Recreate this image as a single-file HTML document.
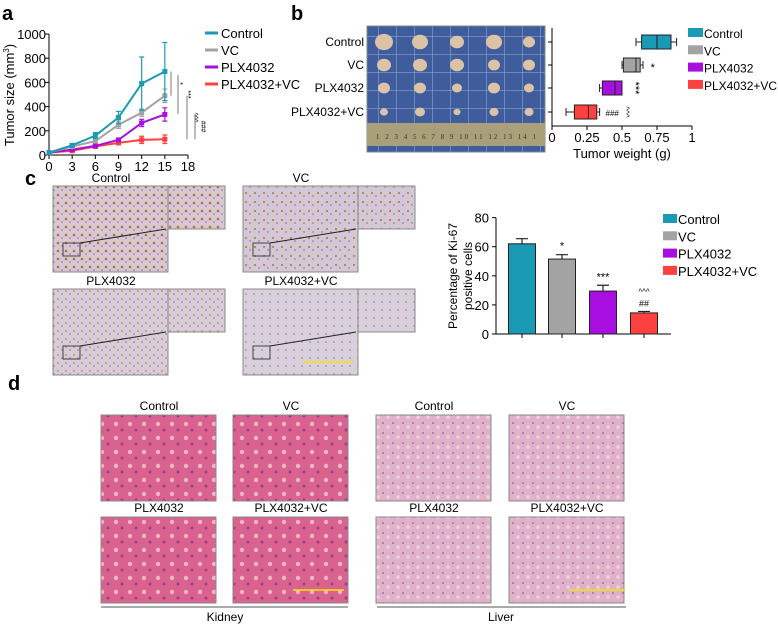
<!DOCTYPE html>
<html><head><meta charset="utf-8"><style>
body{margin:0;background:#fff;}
svg{display:block;font-family:"Liberation Sans",Arial,sans-serif;}
</style></head><body>
<svg width="778" height="624" viewBox="0 0 778 624">
<defs>
<pattern id="grid" width="18" height="18" patternUnits="userSpaceOnUse"><rect width="18" height="18" fill="#3f5c9c"/><path d="M0 0H18M0 0V18" stroke="#9fb0d8" stroke-width="1"/></pattern>
<pattern id="ihc1" width="8" height="8" patternUnits="userSpaceOnUse"><rect width="8" height="8" fill="#d7c6d3"/><circle cx="2" cy="3" r="1.3" fill="#b7762e"/><circle cx="6" cy="6" r="1" fill="#a88fb5"/></pattern>
<pattern id="ihc2" width="9" height="9" patternUnits="userSpaceOnUse"><rect width="9" height="9" fill="#d5c8d6"/><circle cx="3" cy="4" r="1.1" fill="#b98446"/><circle cx="7" cy="7" r="1" fill="#a790b8"/></pattern>
<pattern id="ihc3" width="8" height="8" patternUnits="userSpaceOnUse"><rect width="8" height="8" fill="#d8ccd8"/><circle cx="2" cy="3" r="1" fill="#c09a6e"/><circle cx="6" cy="6" r="1" fill="#a894bb"/></pattern>
<pattern id="ihc4" width="8" height="8" patternUnits="userSpaceOnUse"><rect width="8" height="8" fill="#dad0dc"/><circle cx="6" cy="6" r="1" fill="#a99bc0"/></pattern>
<pattern id="kid" width="14" height="14" patternUnits="userSpaceOnUse"><rect width="14" height="14" fill="#d9628f"/><circle cx="4" cy="4" r="2.2" fill="#eeb6c8"/><circle cx="10" cy="10" r="1.5" fill="#9b3f8a"/></pattern>
<pattern id="liv" width="10" height="10" patternUnits="userSpaceOnUse"><rect width="10" height="10" fill="#e0b1c9"/><circle cx="3" cy="3" r="0.9" fill="#8e5fa6"/><circle cx="8" cy="7" r="1.8" fill="#ecd0dc"/></pattern>
</defs>

<text x="2" y="20" font-size="20" font-weight="bold">a</text>
<g id="pa"></g>

<text x="291" y="20" font-size="20" font-weight="bold">b</text>
<g>
<rect x="367" y="26" width="178" height="126" fill="url(#grid)" stroke="#888"/>
<rect x="367" y="123" width="178" height="23" fill="#a99f78"/>
<text x="376" y="139" font-size="7" font-family="Liberation Serif" fill="#333" textLength="160">1 2 3 4 5 6 7 8 9 10 11 12 13 14 1</text>
</g>
<g id="tum"></g>
<g id="pb"></g>

<text x="25" y="185" font-size="20" font-weight="bold">c</text>
<g id="pcimg"></g>
<g id="pc"></g>

<text x="8" y="390" font-size="20" font-weight="bold">d</text>
<g id="pd"></g>
</svg>
<script>
const NS="http://www.w3.org/2000/svg";
function mk(p,t,a,txt){const e=document.createElementNS(NS,t);for(const k in a)e.setAttribute(k,a[k]);if(txt!==undefined)e.textContent=txt;p.appendChild(e);return e;}
const groupNames=["Control","VC","PLX4032","PLX4032+VC"];
const colors=["#1b9ab5","#a3a3a3","#a80ee0","#ff4040"];

const days=[0,3,6,9,12,15];
const ctrlSize=[20,80,160,310,590,690];
const vcSize=[20,70,115,250,350,490];
const plxSize=[20,45,75,125,265,335];
const comboSize=[20,35,70,100,125,130];
const ctrlErr=[5,10,25,50,220,240];
const vcErr=[5,10,15,30,30,55];
const plxErr=[5,8,10,15,30,55];
const comboErr=[5,5,8,15,30,35];
const aXTicks=[0,3,6,9,12,15,18];
const aYTicks=[0,200,400,600,800,1000];

(function(){
const g=document.getElementById('pa');
const X=v=>49+v*139/18, Y=v=>155-v*0.121;
mk(g,'line',{x1:X(0),y1:Y(0),x2:X(18),y2:Y(0),stroke:'#000'});
mk(g,'line',{x1:X(0),y1:Y(0),x2:X(0),y2:Y(1000),stroke:'#000'});
aXTicks.forEach(t=>{mk(g,'line',{x1:X(t),y1:Y(0),x2:X(t),y2:Y(0)+4,stroke:'#000'});
 const l=mk(g,'text',{x:X(t),y:171,'font-size':13,'text-anchor':'middle'},t);
 });
aYTicks.forEach(t=>{mk(g,'line',{x1:X(0)-4,y1:Y(t),x2:X(0),y2:Y(t),stroke:'#000'});
 const l=mk(g,'text',{x:X(0)-3,y:Y(t)+5,'font-size':13,'text-anchor':'end'},t);
 });
const yt=mk(g,'text',{x:0,y:0,'font-size':13,'text-anchor':'middle',transform:'translate(14,95) rotate(-90)'});
yt.innerHTML='Tumor size (mm<tspan font-size="8" dy="-5">3</tspan><tspan dy="5">)</tspan>';

const series=[ctrlSize,vcSize,plxSize,comboSize], errs=[ctrlErr,vcErr,plxErr,comboErr];
[3,2,1,0].forEach(i=>{
 const s=series[i];
 days.forEach((d,j)=>{const e=mk(g,'path',{d:`M${X(d)} ${Y(s[j]-errs[i][j])}V${Y(s[j]+errs[i][j])}M${X(d)-2.5} ${Y(s[j]+errs[i][j])}h5M${X(d)-2.5} ${Y(s[j]-errs[i][j])}h5`,stroke:colors[i],'stroke-width':1.2,fill:'none'});
  });
 const p=mk(g,'polyline',{points:days.map((d,j)=>X(d)+','+Y(s[j])).join(' '),fill:'none',stroke:colors[i],'stroke-width':2});
 
 days.forEach((d,j)=>{const c=mk(g,'rect',{x:X(d)-2.5,y:Y(s[j])-2.5,width:5,height:5,fill:colors[i]});
  });
});
[[171,Y(690),Y(490),'*',178],[178,Y(660),Y(340),'***',186],[187,Y(490),Y(130),'^^^',193],[195,Y(340),Y(130),'###',201]].forEach(b=>{
 mk(g,'line',{x1:b[0],y1:b[1],x2:b[0],y2:b[2],stroke:'#555','stroke-width':0.8});
 mk(g,'text',{x:0,y:0,'font-size':7,'text-anchor':'middle',transform:`translate(${b[4]},${(b[1]+b[2])/2}) rotate(90)`},b[3]);
});
groupNames.forEach((n,i)=>{const y=33+i*17;
 mk(g,'line',{x1:205,y1:y,x2:218,y2:y,stroke:colors[i],'stroke-width':3});
 const l=mk(g,'text',{x:221,y:y+5,'font-size':13},n);
 });
})();

(function(){
const g=document.getElementById('tum');
const rows=[42,65,88,112], sizes=[[9,8,7,8,6],[7,7,7,6,6],[6,6,5,6,5],[4,5,3.5,4.5,4.5]];
const cols=[384,420,457,494,529];
const labels=["Control","VC","PLX4032","PLX4032+VC"];
labels.forEach((l,i)=>{const t=mk(g,'text',{x:364,y:rows[i]+4,'font-size':12,'text-anchor':'end'},l);
 
 cols.forEach((c,j)=>mk(g,'ellipse',{cx:c,cy:rows[i],rx:sizes[i][j],ry:sizes[i][j]*0.9,fill:'#dcc3a5'}));});
})();

const bMin=[0.60,0.50,0.34,0.10];
const bQ1=[0.64,0.51,0.36,0.16];
const bMed=[0.75,0.60,0.45,0.26];
const bQ3=[0.85,0.63,0.50,0.32];
const bMax=[0.89,0.65,0.50,0.34];
const bTicks=[0,0.25,0.5,0.75,1];
const bTickLabels=["0","0.25","0.5","0.75","1"];
const bSig=["","*","***","### ^^^"];
(function(){
const g=document.getElementById('pb');
const X=v=>552+v*140, rows=[42,65,88,112];
mk(g,'line',{x1:X(0),y1:126,x2:X(1),y2:126,stroke:'#000'});
mk(g,'line',{x1:X(0),y1:28,x2:X(0),y2:126,stroke:'#000'});
bTicks.forEach((t,i)=>{mk(g,'line',{x1:X(t),y1:126,x2:X(t),y2:130,stroke:'#000'});
 const l=mk(g,'text',{x:X(t),y:142,'font-size':13,'text-anchor':'middle'},bTickLabels[i]);
 });
rows.forEach(r=>mk(g,'line',{x1:X(0)-4,y1:r,x2:X(0),y2:r,stroke:'#000'}));
const xt=mk(g,'text',{x:X(0.5),y:158,'font-size':13,'text-anchor':'middle'},'Tumor weight (g)');

rows.forEach((r,i)=>{
 mk(g,'path',{d:`M${X(bMin[i])} ${r}H${X(bQ1[i])}M${X(bQ3[i])} ${r}H${X(bMax[i])}M${X(bMin[i])} ${r-4}v8M${X(bMax[i])} ${r-4}v8`,stroke:'#222',fill:'none'});
 const b=mk(g,'rect',{x:X(bQ1[i]),y:r-7,width:X(bQ3[i])-X(bQ1[i]),height:14,fill:colors[i],stroke:'#222'});
 
 mk(g,'line',{x1:X(bMed[i]),y1:r-7,x2:X(bMed[i]),y2:r+7,stroke:'#222'});
});
mk(g,'text',{x:X(0.72),y:71,'font-size':11,'text-anchor':'middle'},bSig[1]);
mk(g,'text',{x:0,y:0,'font-size':11,'text-anchor':'middle',transform:`translate(${X(0.57)},88) rotate(90)`},bSig[2]);
mk(g,'text',{x:X(0.43),y:116,'font-size':8,'text-anchor':'middle'},'###');
mk(g,'text',{x:0,y:0,'font-size':8,'text-anchor':'middle',transform:`translate(${X(0.51)},112) rotate(90)`},'^^^');
groupNames.forEach((n,i)=>{const y=33+i*17.3;
 mk(g,'rect',{x:688,y:y-5,width:15,height:9,fill:colors[i]});
 const l=mk(g,'text',{x:704,y:y+5,'font-size':12},n);
 });
})();

(function(){
const g=document.getElementById('pcimg');
const pos=[[53,186,'Control','ihc1'],[243,186,'VC','ihc2'],[53,289,'PLX4032','ihc3'],[243,289,'PLX4032+VC','ihc4']];
pos.forEach(p=>{
 const t=mk(g,'text',{x:p[0]+58,y:p[1]-4,'font-size':12,'text-anchor':'middle'},p[2]);
 
 const r=mk(g,'rect',{x:p[0],y:p[1],width:115,height:86,fill:`url(#${p[3]})`,stroke:'#888'});
 
 mk(g,'rect',{x:p[0]+115,y:p[1],width:57,height:43,fill:`url(#${p[3]})`,stroke:'#888'});
 mk(g,'rect',{x:p[0]+10,y:p[1]+57,width:17,height:13,fill:'none',stroke:'#444'});
 mk(g,'line',{x1:p[0]+27,y1:p[1]+57,x2:p[0]+113,y2:p[1]+43,stroke:'#222'});
});
mk(g,'line',{x1:303,y1:362,x2:353,y2:362,stroke:'#f2e600','stroke-width':1.5});
})();

const cVals=[62,51.5,29.5,14.5];
const cErr=[3.5,3,4,1];
const cTicks=[0,20,40,60,80];
const cSig=["","*","***","##"];
(function(){
const g=document.getElementById('pc');
const Y=v=>334-v*1.455, cx=[522,562,603,644];
mk(g,'line',{x1:496,y1:334,x2:671,y2:334,stroke:'#000'});
mk(g,'line',{x1:496,y1:Y(80),x2:496,y2:334,stroke:'#000'});
cTicks.forEach(t=>{mk(g,'line',{x1:492,y1:Y(t),x2:496,y2:Y(t),stroke:'#000'});
 const l=mk(g,'text',{x:489,y:Y(t)+5,'font-size':13,'text-anchor':'end'},t);
 });
const yt=mk(g,'text',{x:0,y:0,'font-size':12,'text-anchor':'middle',transform:'translate(457,276) rotate(-90)'},'Percentage of Ki-67');

mk(g,'text',{x:0,y:0,'font-size':12,'text-anchor':'middle',transform:'translate(472,276) rotate(-90)'},'positive cells');
cVals.forEach((v,i)=>{
 mk(g,'path',{d:`M${cx[i]} ${Y(v)}V${Y(v+cErr[i])}M${cx[i]-6} ${Y(v+cErr[i])}h12`,stroke:'#222',fill:'none','stroke-width':1.2});
 const b=mk(g,'rect',{x:cx[i]-13.5,y:Y(v),width:27,height:334-Y(v),fill:colors[i],stroke:'#222'});
 
 mk(g,'line',{x1:cx[i],y1:334,x2:cx[i],y2:338,stroke:'#000'});
 if(cSig[i]) mk(g,'text',{x:cx[i],y:Y(v+cErr[i])-5,'font-size':i==3?9:11,'text-anchor':'middle'},cSig[i]);
});
mk(g,'text',{x:cx[3],y:Y(cVals[3]+cErr[3])-17,'font-size':8,'text-anchor':'middle'},'^^^');
groupNames.forEach((n,i)=>{const y=219+i*17.3;
 mk(g,'rect',{x:663,y:y-5,width:14,height:9,fill:colors[i]});
 const l=mk(g,'text',{x:678,y:y+5,'font-size':13},n);
 });
})();

(function(){
const g=document.getElementById('pd');
const cols=[[101,'kid'],[233,'kid'],[376,'liv'],[509,'liv']];
const rows=[[415,['Control','VC','Control','VC']],[517,['PLX4032','PLX4032+VC','PLX4032','PLX4032+VC']]];
rows.forEach(r=>cols.forEach((c,i)=>{
 const t=mk(g,'text',{x:c[0]+58,y:r[0]-5,'font-size':12,'text-anchor':'middle'},r[1][i]);
 
 const im=mk(g,'rect',{x:c[0],y:r[0],width:115,height:86,fill:`url(#${c[1]})`,stroke:'#888'});
 
}));
mk(g,'line',{x1:293,y1:590,x2:344,y2:590,stroke:'#f2e600','stroke-width':1.5});
mk(g,'line',{x1:569,y1:590,x2:625,y2:590,stroke:'#f2e600','stroke-width':1.5});
mk(g,'line',{x1:101,y1:607,x2:348,y2:607,stroke:'#555'});
mk(g,'line',{x1:377,y1:607,x2:626,y2:607,stroke:'#555'});
const k=mk(g,'text',{x:225,y:621,'font-size':12,'text-anchor':'middle'},'Kidney');

const lv=mk(g,'text',{x:501,y:621,'font-size':12,'text-anchor':'middle'},'Liver');

})();
</script>
</body></html>
